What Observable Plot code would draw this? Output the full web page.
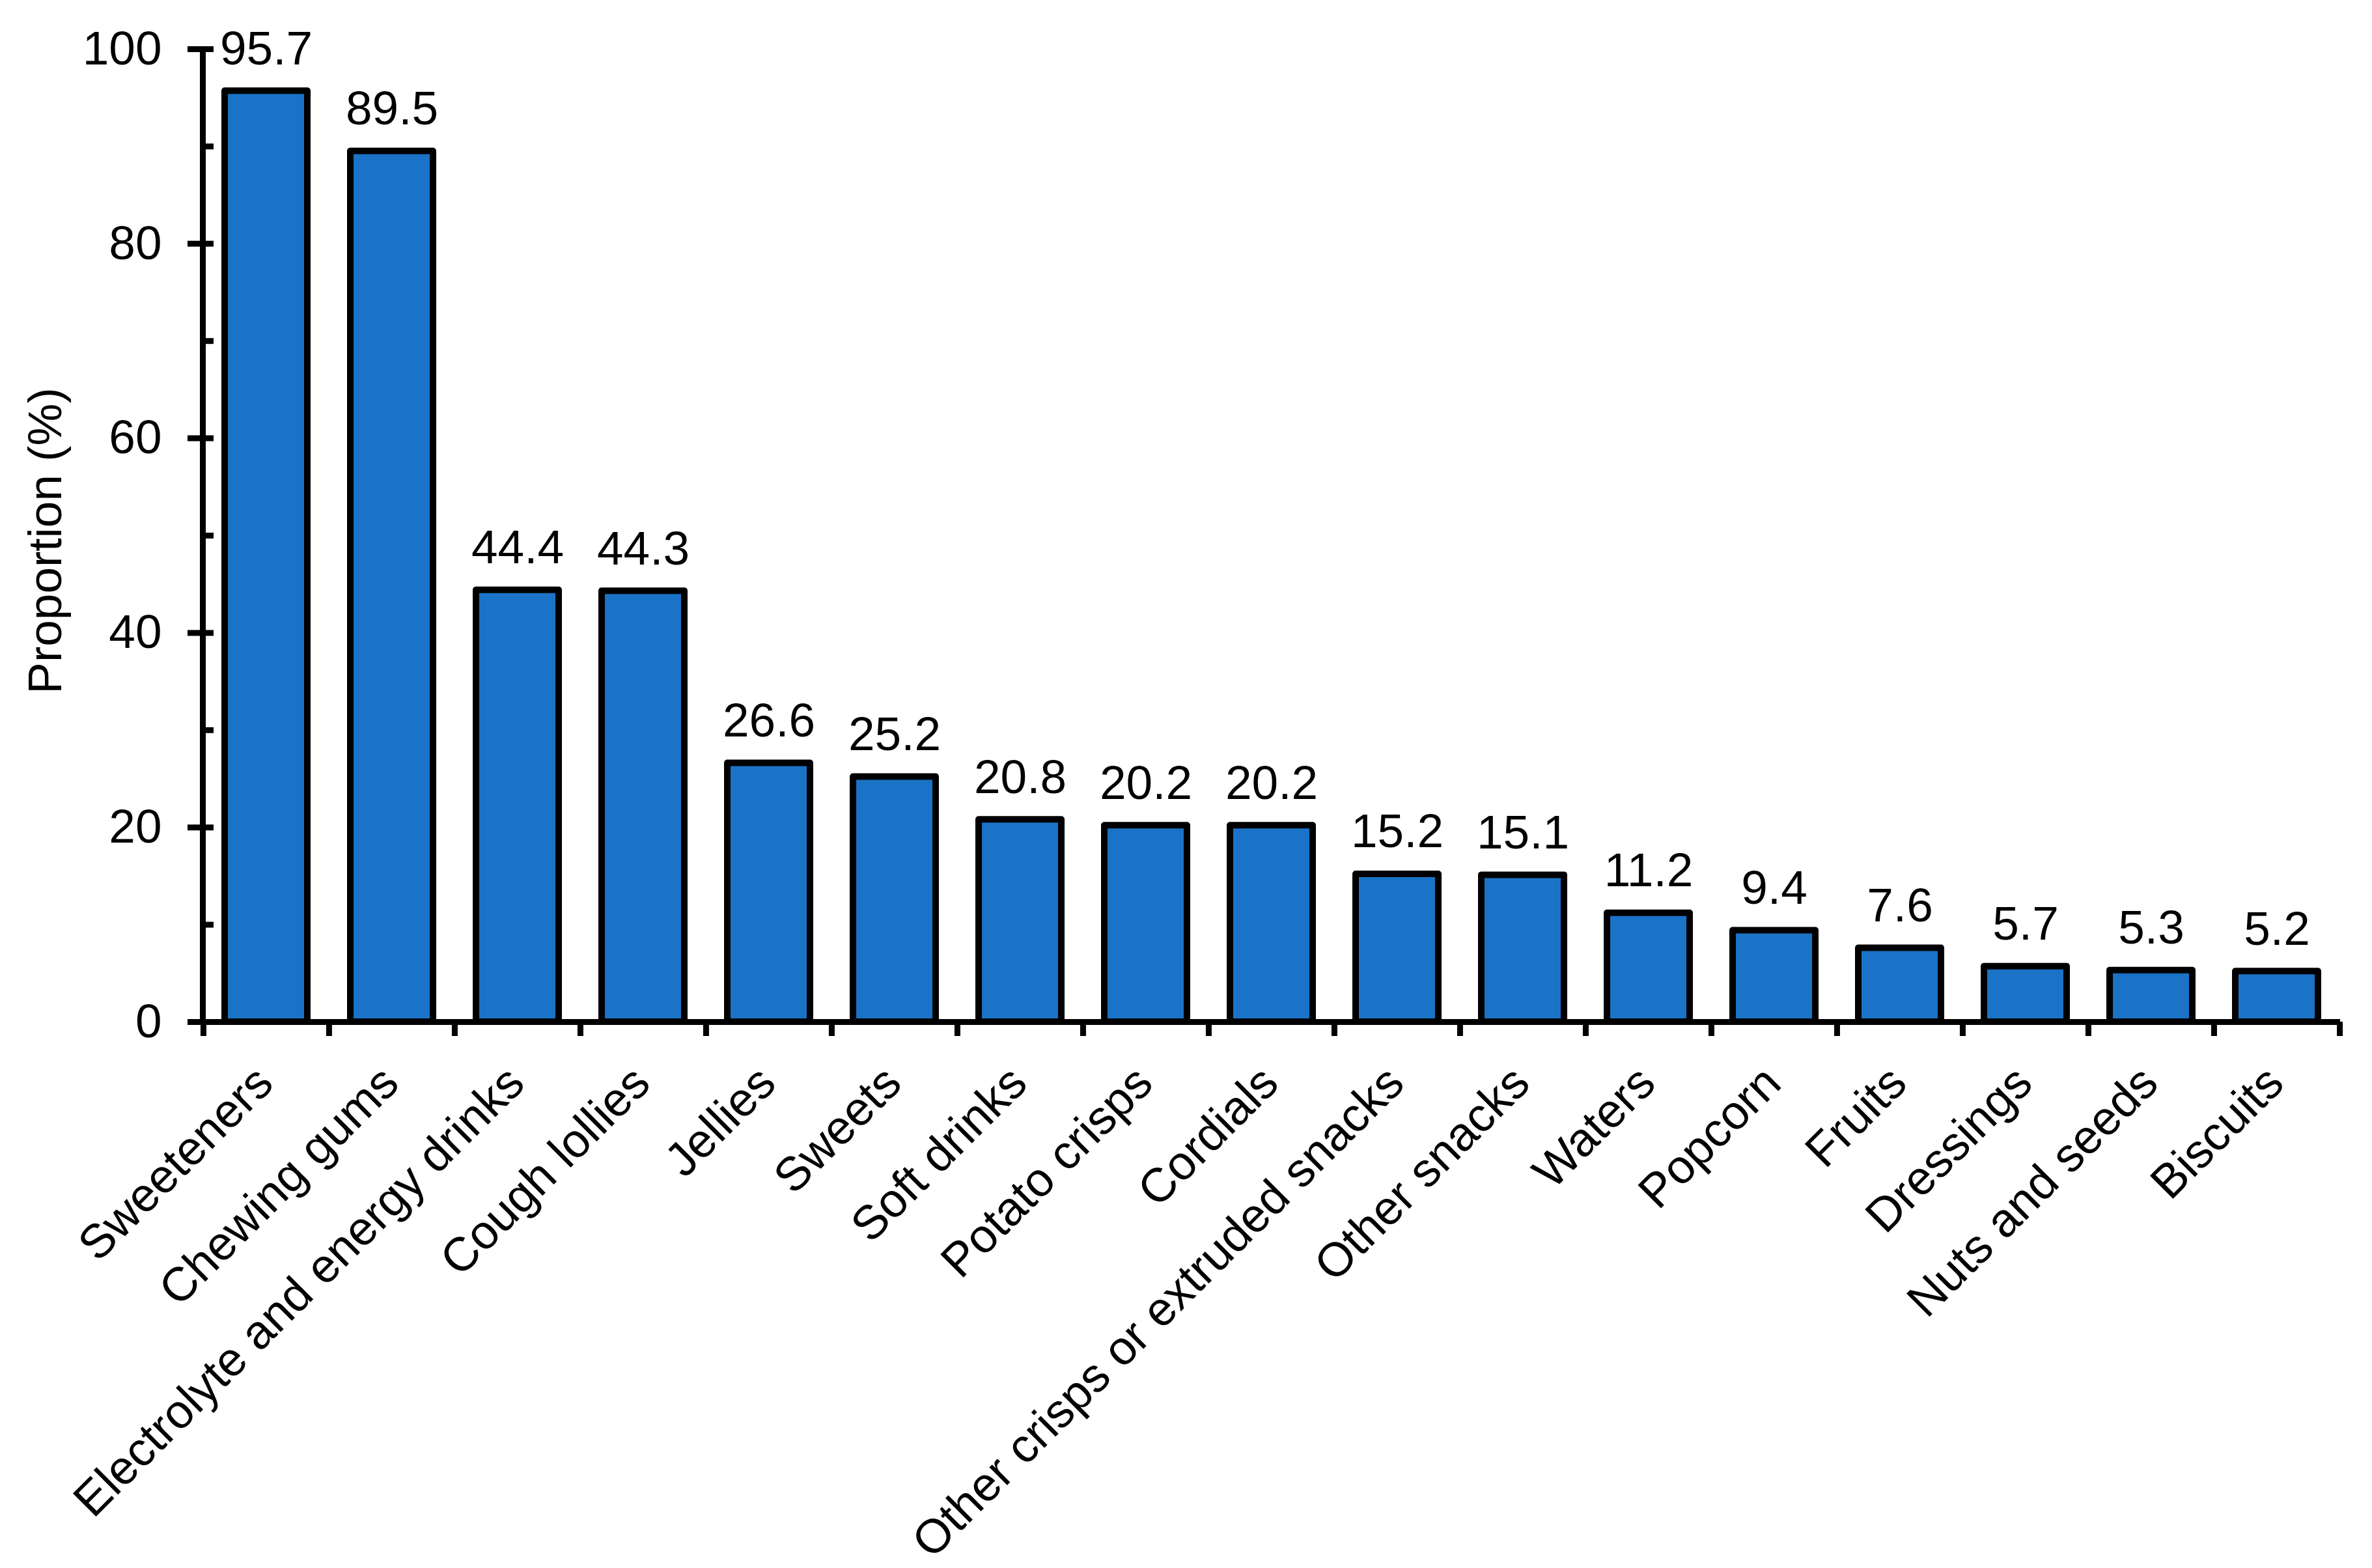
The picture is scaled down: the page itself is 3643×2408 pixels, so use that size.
<!DOCTYPE html>
<html>
<head>
<meta charset="utf-8">
<script src="https://cdn.jsdelivr.net/npm/d3@7"></script>
<script src="https://cdn.jsdelivr.net/npm/@observablehq/plot@0.6"></script>
<style>
  html, body { margin: 0; padding: 0; background: #ffffff; }
  #chart svg { display: block; overflow: visible; }
</style>
</head>
<body>
<div id="chart"></div>
<script>
const categories = [
  "Sweeteners", "Chewing gums", "Electrolyte and energy drinks", "Cough lollies",
  "Jellies", "Sweets", "Soft drinks", "Potato crisps", "Cordials",
  "Other crisps or extruded snacks", "Other snacks", "Waters", "Popcorn",
  "Fruits", "Dressings", "Nuts and seeds", "Biscuits"
];
const values = [95.7, 89.5, 44.4, 44.3, 26.6, 25.2, 20.8, 20.2, 20.2, 15.2, 15.1, 11.2, 9.4, 7.6, 5.7, 5.3, 5.2];
const majorTicks = [0, 20, 40, 60, 80, 100];
const minorTicks = [10, 30, 50, 70, 90];
const yLabel = "Proportion (%)";

const data = categories.map((c, i) => ({category: c, value: values[i]}));

const W = 3643, H = 2408;
const mL = 311, mR = 49, mT = 75, mB = 839;
const step = (W - mL - mR) / categories.length;
const FONT = "'Liberation Sans', Arial, Helvetica, sans-serif";
const FS = 73;

const chart = Plot.plot({
  width: W,
  height: H,
  marginLeft: mL,
  marginRight: mR,
  marginTop: mT,
  marginBottom: mB,
  style: {fontFamily: FONT, fontSize: FS + "px", color: "#000", background: "#fff"},
  x: {domain: categories, paddingInner: 0.34, paddingOuter: 0.17, label: null},
  y: {domain: [0, 100], label: null},
  marks: [
    Plot.barY(data, {x: "category", y: "value", fill: "#1a73c6", stroke: "#000", strokeWidth: 10, strokeLinejoin: "round"}),
    // x axis line
    Plot.ruleY([0], {stroke: "#000", strokeWidth: 9}),
    // y axis line
    Plot.frame({anchor: "left", stroke: "#000", strokeWidth: 9}),
    // y major ticks (crossing the axis)
    Plot.axisY({ticks: majorTicks, tickSize: 40, dx: 17, tickFormat: () => "", strokeWidth: 9, stroke: "#000"}),
    // y minor ticks (inside)
    Plot.axisY({ticks: minorTicks, tickSize: 17, dx: 17, tickFormat: () => "", strokeWidth: 9, stroke: "#000"}),
    // y tick labels
    Plot.axisY({ticks: majorTicks, tickSize: 0, tickPadding: 63, fontSize: FS, fill: "#000"}),
    // x ticks at category boundaries
    Plot.axisX({ticks: categories, tickSize: 22, dx: -step / 2, tickFormat: () => "", strokeWidth: 9, stroke: "#000"}),
    Plot.axisX({ticks: [categories[categories.length - 1]], tickSize: 22, dx: step / 2, tickFormat: () => "", strokeWidth: 9, stroke: "#000"}),
    // x tick labels rotated
    Plot.axisX({ticks: categories, tickSize: 0, tickPadding: 98, tickRotate: -45, textAnchor: "end", lineAnchor: "bottom", dx: 14, fontSize: FS, fill: "#000"}),
    // value labels
    Plot.text(data, {x: "category", y: "value", text: d => d.value.toFixed(1), lineAnchor: "bottom", dy: -41, fontSize: FS, fill: "#000"}),
    // y axis title
    Plot.text([yLabel], {frameAnchor: "left", text: d => d, rotate: -90, lineAnchor: "bottom", textAnchor: "middle", dx: -218, dy: 8, fontSize: FS, fill: "#000"})
  ]
});

document.getElementById("chart").appendChild(chart);
</script>
</body>
</html>
